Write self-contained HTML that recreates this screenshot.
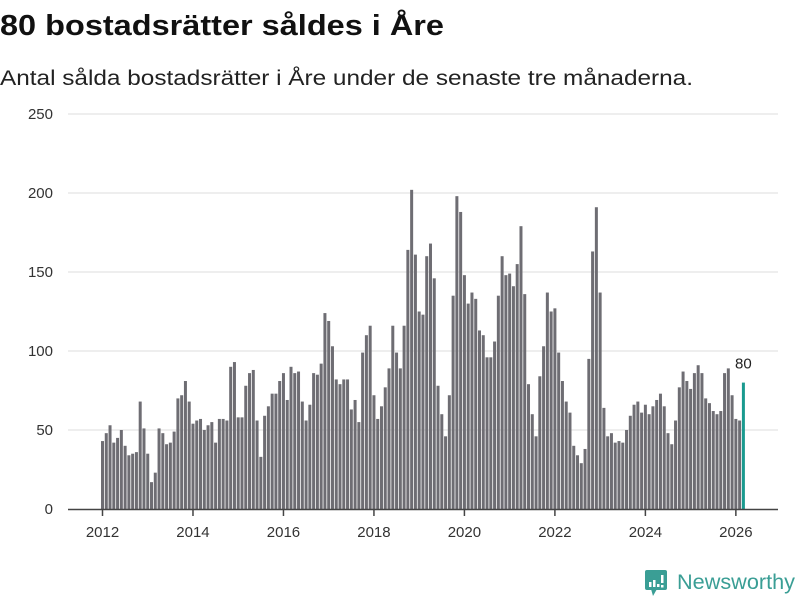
<!DOCTYPE html>
<html><head><meta charset="utf-8"><style>
body{margin:0;background:#fff;width:800px;height:600px;overflow:hidden;font-family:"Liberation Sans","DejaVu Sans",sans-serif}
</style></head><body>
<svg id="chart" width="800" height="600" xmlns="http://www.w3.org/2000/svg">
<text x="0" y="35" font-size="29" font-weight="bold" fill="#111" textLength="444" lengthAdjust="spacingAndGlyphs">80 bostadsrätter såldes i Åre</text>
<text x="0" y="85" font-size="21" fill="#222" textLength="693" lengthAdjust="spacingAndGlyphs">Antal sålda bostadsrätter i Åre under de senaste tre månaderna.</text>
<g id="grid"></g><g id="bars"></g><g id="xaxis"></g>
<g>
<rect x="645" y="570" width="22" height="20" rx="2" fill="#3a9e95"/>
<polygon points="651,589 657,589 653,596" fill="#3a9e95"/>
<rect x="649" y="582" width="2.5" height="5" fill="#fff"/><rect x="653" y="580" width="2.5" height="7" fill="#fff"/><rect x="657" y="584" width="2.5" height="3" fill="#fff"/><rect x="661" y="575" width="2.5" height="8" fill="#fff"/><rect x="661" y="585" width="2.5" height="2.5" fill="#fff"/>
<text x="677" y="589" font-size="21" fill="#3a9e95" textLength="118" lengthAdjust="spacingAndGlyphs">Newsworthy</text>
</g>
</svg>
<script>
const startYear = 2012;
const values = [43,48,53,42,45,50,40,34,35,36,68,51,
35,17,23,51,48,41,42,49,70,72,81,68,
54,56,57,50,53,55,42,57,57,56,90,93,
58,58,78,86,88,56,33,59,65,73,73,81,
86,69,90,86,87,68,56,66,86,85,92,124,
119,103,82,79,82,82,63,69,55,99,110,116,
72,57,65,77,89,116,99,89,116,164,202,161,
125,123,160,168,146,78,60,46,72,135,198,188,
148,130,137,133,113,110,96,96,106,135,160,148,
149,141,155,179,136,79,60,46,84,103,137,125,
127,99,81,68,61,40,34,29,38,95,163,191,
137,64,46,48,42,43,42,50,59,66,68,61,
66,60,65,69,73,65,48,41,56,77,87,81,
76,86,91,86,70,67,62,60,62,86,89,72,
57,56,80];
const yTicks = [0,50,100,150,200,250];
const xTickLabels = ["2012","2014","2016","2018","2020","2022","2024","2026"];
const NS="http://www.w3.org/2000/svg";
const y0=509, ppu=(509-114)/250;
const yScale=v=>y0-v*ppu;
const xScale=i=>101+i*3.77; // month index -> left edge
function mk(tag,attrs,parent){const e=document.createElementNS(NS,tag);for(const k in attrs)e.setAttribute(k,attrs[k]);parent.appendChild(e);return e;}
const grid=document.getElementById('grid'),bars=document.getElementById('bars'),xa=document.getElementById('xaxis');
yTicks.forEach(t=>{
  if(t>0){const l=mk('line',{x1:68,x2:778,y1:yScale(t),y2:yScale(t),stroke:'#dedede','stroke-width':1},grid);
  
  }
  const tx=mk('text',{x:53,y:yScale(t)+5,'text-anchor':'end','font-size':15,fill:'#333'},grid);
  
  
  tx.textContent=t;
});
const last=values.length-1;
values.forEach((v,i)=>{
  const r=mk('rect',{x:xScale(i),y:yScale(v),width:3,height:v*ppu,fill:i===last?'#1a9a8f':'#6e6d73'},bars);
  
  
});
const lbl=mk('text',{x:xScale(last)+1.5,y:yScale(values[last])-14,'text-anchor':'middle','font-size':15,fill:'#222'},bars);


lbl.textContent=values[last];
const ax=mk('line',{x1:68,x2:778,y1:509.5,y2:509.5,stroke:'#444','stroke-width':1.5},xa);


xTickLabels.forEach(s=>{
  const i=(parseInt(s)-startYear)*12;
  const x=xScale(i)+1.5;
  const tk=mk('line',{x1:x,x2:x,y1:509,y2:516,stroke:'#444','stroke-width':1.5},xa);
  
  
  const t=mk('text',{x:x,y:537,'text-anchor':'middle','font-size':15,fill:'#333'},xa);
  
  
  t.textContent=s;
});
</script>
</body></html>
